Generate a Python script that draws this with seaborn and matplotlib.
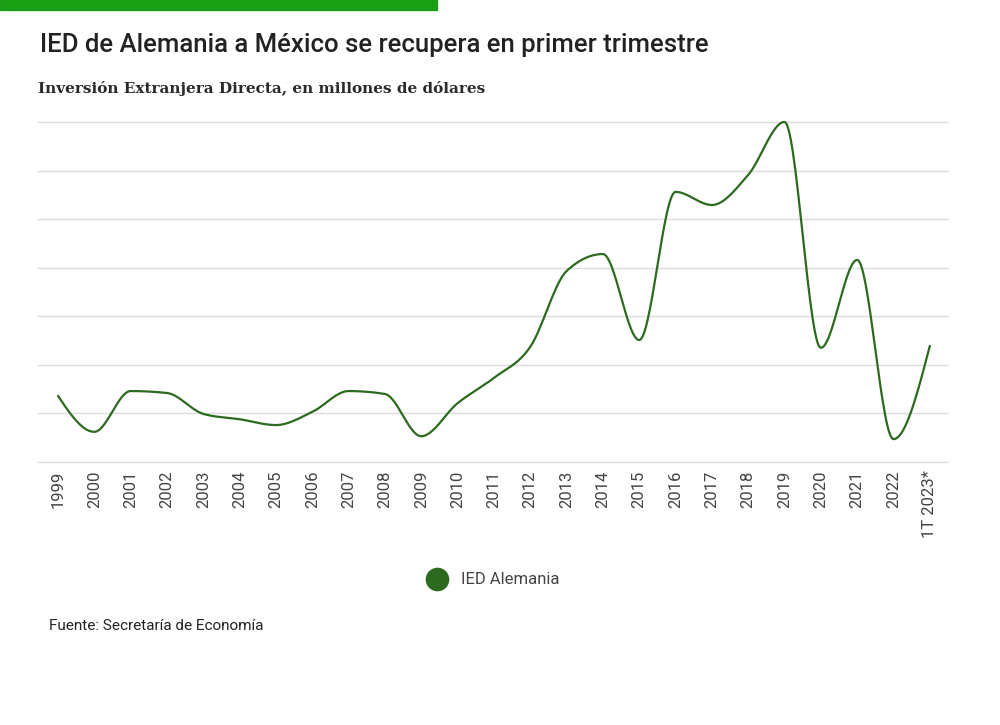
import numpy as np
import pandas as pd
import matplotlib
matplotlib.use('Agg')
import matplotlib.pyplot as plt
import seaborn as sns
from matplotlib.lines import Line2D
from matplotlib.patches import Rectangle

# Data (millones de dólares)
years = ['1999', '2000', '2001', '2002', '2003', '2004', '2005', '2006',
         '2007', '2008', '2009', '2010', '2011', '2012', '2013', '2014',
         '2015', '2016', '2017', '2018', '2019', '2020', '2021', '2022',
         '1T 2023*']
ied = [680, 310, 730, 710, 495, 440, 380, 515, 730, 700, 265, 605,
       865, 1185, 1965, 2140, 1255, 2780, 2645, 2955, 3500, 1175, 2080,
       235, 1195]

LINE = '#2c6a1f'


def monotone_curve(y, n=30):
    # monotone cubic (d3 curveMonotoneX style), x spacing = 1
    y = np.asarray(y, float)
    s = np.diff(y)
    t = np.zeros_like(y)
    for i in range(1, len(y) - 1):
        s0, s1 = s[i - 1], s[i]
        p = (s0 + s1) / 2
        t[i] = (np.sign(s0) + np.sign(s1)) * min(abs(s0), abs(s1), 0.5 * abs(p))
    t[0] = (3 * s[0] - t[1]) / 2
    t[-1] = (3 * s[-1] - t[-2]) / 2
    xs, ys = [], []
    for i in range(len(y) - 1):
        u = np.linspace(0, 1, n, endpoint=False)
        h00 = 2 * u**3 - 3 * u**2 + 1
        h10 = u**3 - 2 * u**2 + u
        h01 = -2 * u**3 + 3 * u**2
        h11 = u**3 - u**2
        xs.append(i + u)
        ys.append(h00 * y[i] + h10 * t[i] + h01 * y[i + 1] + h11 * t[i + 1])
    xs.append([len(y) - 1])
    ys.append([y[-1]])
    return np.concatenate(xs), np.concatenate(ys)


cx, cy = monotone_curve(ied)
df = pd.DataFrame({'x': cx, 'y': cy})

sns.set_style('white')
plt.rcParams['font.family'] = ['Roboto', 'DejaVu Sans']

fig = plt.figure(figsize=(10, 7.25), dpi=100)
ax = fig.add_axes([0.038, 0.3628, 0.91, 0.469])

sns.lineplot(data=df, x='x', y='y', ax=ax, color=LINE, linewidth=1.6,
             estimator=None, sort=False, legend=False)
for l in ax.lines:
    l.set_clip_on(False)

ax.set_xlim(-0.55, len(years) - 0.5)
ax.set_ylim(0, 3500)
ax.set_yticks(np.arange(0, 3501, 500))
ax.set_yticklabels([])
ax.yaxis.grid(True, color='#dcdcdc', linewidth=1)
for gl in ax.get_ygridlines():
    gl.set_clip_on(False)
ax.set_axisbelow(True)
ax.set_xticks(range(len(years)))
ax.set_xticklabels(years, rotation=90, fontsize=12, color='#444444')
ax.tick_params(axis='both', length=0, pad=6)
ax.set_xlabel('')
ax.set_ylabel('')
for sp in ax.spines.values():
    sp.set_visible(False)

# top green bar
fig.patches.append(Rectangle((0, 1 - 10 / 725), 0.437, 10 / 725,
                             transform=fig.transFigure, color='#1a9e13',
                             zorder=0))

fig.text(0.04, 1 - 45 / 725, 'IED de Alemania a México se recupera en primer trimestre',
         fontsize=18.5, fontweight='medium', color='#222222', va='center')
fig.text(0.038, 1 - 88 / 725, 'Inversión Extranjera Directa, en millones de dólares',
         fontsize=11, family='DejaVu Serif', fontweight='bold', color='#2a2a2a',
         va='center')

handle = Line2D([], [], marker='o', linestyle='', markersize=16,
                markerfacecolor=LINE, markeredgecolor=LINE)
fig.legend([handle], ['IED Alemania'], loc='center', frameon=False,
           bbox_to_anchor=(0.49, 1 - 580 / 725), fontsize=12,
           labelcolor='#444444', handletextpad=0.4)

fig.text(0.049, 1 - 626 / 725, 'Fuente: Secretaría de Economía',
         fontsize=11, color='#222222', va='center')

fig.savefig('out.png', dpi=100, facecolor='white')
